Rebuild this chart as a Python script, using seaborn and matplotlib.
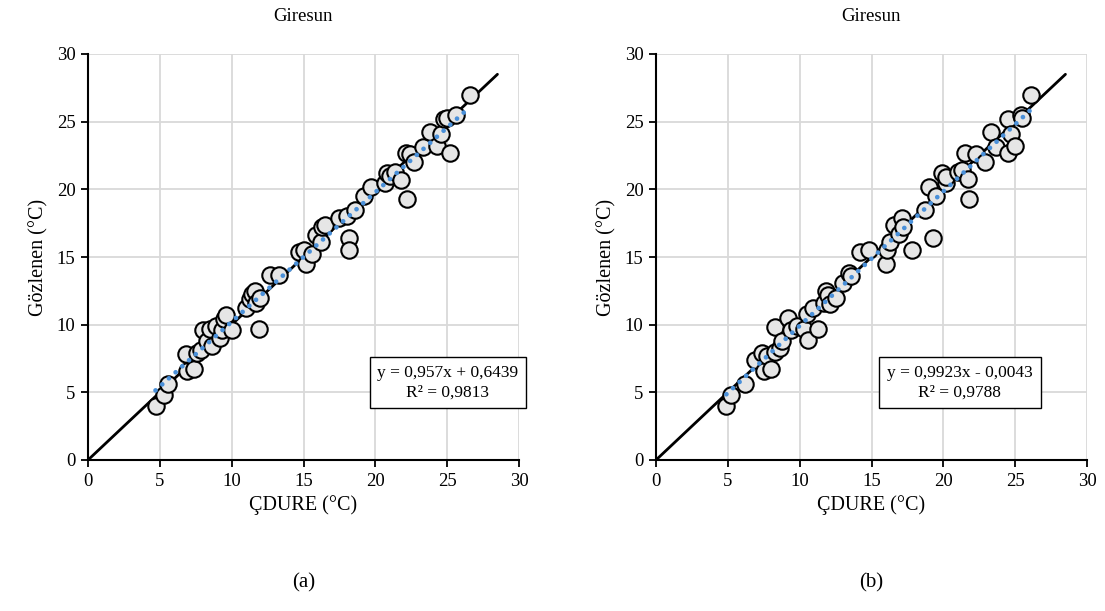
import numpy as np
import pandas as pd
import matplotlib
matplotlib.use("Agg")
import matplotlib.pyplot as plt
import seaborn as sns

# ---- data ----
a_x = [4.7, 5.3, 5.6, 6.9, 6.8, 7.4, 7.6, 7.9, 8.0, 8.3, 8.5, 8.6, 8.9, 9.2, 9.3, 9.5, 9.6, 10.0,
       11.0, 11.3, 11.4, 11.6, 11.7, 11.9, 12.0, 12.7, 13.3, 14.7, 15.0, 15.2, 15.6, 15.9, 16.2,
       16.3, 16.5, 17.5, 18.0, 18.2, 18.2, 18.6, 19.2, 19.7, 20.7, 20.8, 21.0, 21.4, 21.8, 22.1,
       22.2, 22.4, 22.7, 23.3, 23.8, 24.3, 24.6, 24.8, 25.0, 25.2, 25.6, 26.6]
a_y = [4.0, 4.8, 5.6, 6.6, 7.8, 6.7, 7.9, 8.1, 9.6, 8.8, 9.7, 8.4, 9.9, 9.0, 9.6, 10.4, 10.7, 9.6,
       11.2, 11.9, 12.3, 12.5, 11.6, 9.7, 12.0, 13.7, 13.7, 15.4, 15.5, 14.5, 15.2, 16.6, 16.1,
       17.2, 17.4, 17.9, 18.0, 16.4, 15.5, 18.5, 19.5, 20.2, 20.5, 21.2, 21.0, 21.3, 20.7, 22.7,
       19.3, 22.6, 22.0, 23.1, 24.2, 23.2, 24.1, 25.2, 25.3, 22.7, 25.5, 27.0]

b_x = [4.9, 5.2, 6.2, 6.9, 7.4, 7.5, 7.7, 8.0, 8.3, 8.3, 8.6, 8.8, 9.2, 9.4, 9.8, 10.3, 10.5, 10.6,
       10.9, 11.3, 11.7, 11.8, 12.0, 12.1, 12.5, 13.0, 13.4, 13.6, 14.2, 14.8, 16.0, 16.1, 16.3,
       16.6, 16.9, 17.1, 17.2, 17.8, 18.7, 19.0, 19.3, 19.5, 19.9, 20.2, 20.2, 21.0, 21.3, 21.5,
       21.7, 21.8, 22.3, 22.9, 23.3, 23.7, 24.5, 24.5, 24.7, 25.0, 25.4, 25.5, 26.1]
b_y = [4.0, 4.8, 5.6, 7.4, 7.9, 6.6, 7.7, 6.7, 8.0, 9.8, 8.3, 8.8, 10.5, 9.6, 9.9, 9.7, 10.8, 8.9,
       11.2, 9.7, 11.6, 12.5, 12.2, 11.5, 12.0, 13.1, 13.8, 13.6, 15.4, 15.5, 14.5, 15.5, 16.1,
       17.4, 16.7, 17.9, 17.2, 15.5, 18.5, 20.2, 16.4, 19.5, 21.2, 20.5, 20.9, 21.3, 21.4, 22.7,
       20.8, 19.3, 22.6, 22.0, 24.2, 23.1, 25.2, 22.7, 24.1, 23.2, 25.5, 25.3, 27.0]

a_fit = (0.957, 0.6439)
b_fit = (0.9923, -0.0043)
a_text = ["y = 0,957x + 0,6439", "R² = 0,9813"]
b_text = ["y = 0,9923x - 0,0043", "R² = 0,9788"]
titles = ["Giresun", "Giresun"]
panel_labels = ["(a)", "(b)"]
xlabel = "ÇDURE (°C)"
ylabel = "Gözlenen (°C)"
ticks = [0, 5, 10, 15, 20, 25, 30]
ref_line = [0, 28.5]

sns.set_theme(style="white")
plt.rcParams['font.family'] = ['Liberation Serif', 'DejaVu Serif']

fig = plt.figure(figsize=(11.05, 6.11), dpi=100)
axes = [fig.add_axes([88/1105, 1-460/611, 431/1105, 406/611]),
        fig.add_axes([656/1105, 1-460/611, 431/1105, 406/611])]
box_x = [0.835, 0.705]

panels = [(a_x, a_y, a_fit, a_text), (b_x, b_y, b_fit, b_text)]
for i, (ax, (xs, ys, fit, txt)) in enumerate(zip(axes, panels)):
    df = pd.DataFrame({"x": xs, "y": ys})
    ax.set_xlim(0, 30)
    ax.set_ylim(0, 30)
    ax.set_xticks(ticks)
    ax.set_yticks(ticks)
    ax.grid(True, color="#d9d9d9", linewidth=1.3, zorder=0)
    ax.set_axisbelow(True)
    # 1:1 line
    sns.lineplot(x=ref_line, y=ref_line, ax=ax, color="black", linewidth=2.0, zorder=2)
    sns.scatterplot(data=df, x="x", y="y", ax=ax, s=140, color="#e6e6e6",
                    edgecolor="black", linewidth=1.5, zorder=3)
    fx = np.array([min(xs), max(xs)])
    sns.lineplot(x=fx, y=fit[0] * fx + fit[1], ax=ax, color="#4a90d9",
                 linewidth=3.4, linestyle=(0, (0.01, 1.9)), dash_capstyle="round", zorder=4)
    for s in ["top", "right"]:
        ax.spines[s].set_visible(False)
    for s in ["left", "bottom"]:
        ax.spines[s].set_color("black")
        ax.spines[s].set_linewidth(1.5)
    ax.tick_params(axis="both", which="both", direction="out", length=5, width=1.3,
                   colors="black", labelsize=13.5, left=True, bottom=True, pad=4)
    ax.set_xlabel(xlabel, fontsize=14.5, color="black", labelpad=4)
    ax.set_ylabel(ylabel, fontsize=14.5, color="black", labelpad=6)
    ax.set_title(titles[i], fontsize=13.5, color="black", pad=24)
    ax.text(box_x[i], 0.19, txt[0] + "\n" + txt[1], transform=ax.transAxes, ha="center",
            va="center", fontsize=12.5, color="black", linespacing=1.3, zorder=6,
            bbox=dict(boxstyle="square,pad=0.45", facecolor="white", edgecolor="black",
                      linewidth=1.0))
    fig.text((ax.get_position().x0 + ax.get_position().x1) / 2, 1 - 583/611,
             panel_labels[i], ha="center", va="center", fontsize=15, color="black")

fig.savefig("out.png", dpi=100)
